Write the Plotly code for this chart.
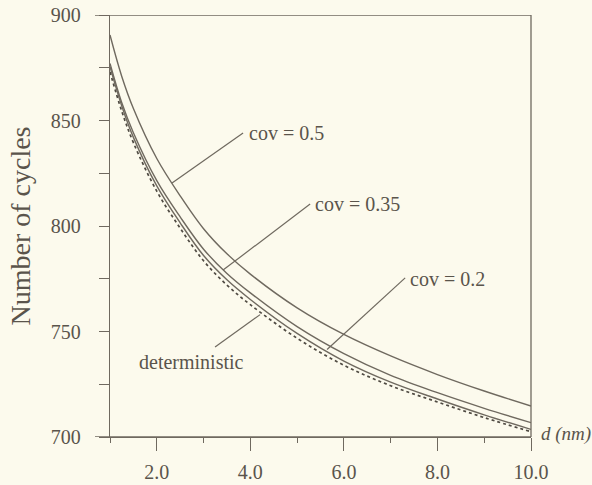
import plotly.graph_objects as go

# Data
d_nm = [1, 1.25, 1.5, 2, 2.5, 3, 3.5, 4, 5, 6, 7, 8, 9, 10]
cov_05 = [890.5, 871, 855.7, 832, 814.3, 798.7, 786.8, 777.2, 761.2, 748.6, 738.4, 729.6, 721.8, 714.7]
cov_035 = [877, 858.5, 844.2, 821.5, 804.3, 789, 777.5, 768.3, 752.3, 739.5, 729.2, 721, 713.6, 706.8]
cov_02 = [875.5, 857, 842, 819, 801.5, 786, 774.5, 765.2, 749.1, 736, 726, 718, 710.5, 703.6]
deterministic = [873, 854.5, 839.5, 816.5, 799, 783.5, 772, 762.7, 746.8, 734, 724.3, 716.6, 709.2, 702.5]

x_ticks = [2, 4, 6, 8, 10]
x_tick_labels = ["2.0", "4.0", "6.0", "8.0", "10.0"]
y_ticks = [700, 750, 800, 850, 900]

LINE = "#6f695f"
TEXT = "#5a544b"
BG = "#fcfaed"
FONT = "Liberation Serif, Times New Roman, Times, serif"

fig = go.Figure()
for ys in (cov_05, cov_035, cov_02):
    fig.add_trace(go.Scatter(x=d_nm, y=ys, mode="lines", line=dict(color=LINE, width=1.4, shape="spline"),
                             showlegend=False, hoverinfo="skip"))
fig.add_trace(go.Scatter(x=d_nm, y=deterministic, mode="lines",
                         line=dict(color="#4f4a42", width=1.7, dash="3px,3px", shape="spline"),
                         showlegend=False, hoverinfo="skip"))

# leader lines (label -> curve)
leaders = [
    ((3.845, 844.1), (2.326, 820.4)),
    ((5.278, 810.4), (3.417, 779.1)),
    ((7.31, 775.4), (5.64, 741.5)),
    ((3.246, 742.7), (4.209, 758.0)),
]
for (xa, ya), (xb, yb) in leaders:
    fig.add_shape(type="line", xref="x", yref="y", x0=xa, y0=ya, x1=xb, y1=yb,
                  line=dict(color=LINE, width=1.2))

labels = [
    ("cov = 0.5", 3.93, 844.1),
    ("cov = 0.35", 5.34, 810.2),
    ("cov = 0.2", 7.37, 775.1),
    ("deterministic", 1.578, 735.5),
]
for txt, xx, yy in labels:
    fig.add_annotation(text=txt, x=xx, y=yy, xref="x", yref="y", xanchor="left", yanchor="middle",
                       showarrow=False, font=dict(family=FONT, size=20, color=TEXT))

fig.add_annotation(text="<i>d (nm)</i>", x=1.019, y=700, xref="paper", yref="y", xanchor="left",
                   yanchor="middle", yshift=3, showarrow=False, font=dict(family=FONT, size=19, color=TEXT))

# frame: top and bottom lines extend a little left of the y axis, right border
ext = -15 / 421
for yv in (700, 900):
    fig.add_shape(type="line", xref="paper", yref="y", x0=ext, x1=1, y0=yv, y1=yv,
                  line=dict(color=LINE, width=1.3))
fig.add_shape(type="line", xref="paper", yref="paper", x0=1, x1=1, y0=0, y1=1,
              line=dict(color=LINE, width=1.3))

fig.update_layout(
    width=592, height=485,
    margin=dict(l=110, r=61, t=15, b=48, autoexpand=False),
    paper_bgcolor=BG, plot_bgcolor=BG,
    font=dict(family=FONT, color=TEXT),
)
fig.update_xaxes(
    range=[1, 10], showgrid=False, zeroline=False, automargin=False,
    showline=True, linecolor=LINE, linewidth=1.3,
    tickvals=x_ticks, ticktext=x_tick_labels,
    ticks="outside", ticklen=13, tickwidth=1.3, tickcolor=LINE,
    ticklabelstandoff=4,
    tickfont=dict(family=FONT, size=20, color=TEXT),
    minor=dict(tickvals=[1, 3, 5, 7, 9], ticks="outside", ticklen=5, tickwidth=1.3, tickcolor=LINE, showgrid=False),
)
fig.update_yaxes(
    range=[700, 900], showgrid=False, zeroline=False, automargin=False,
    showline=True, linecolor=LINE, linewidth=1.3,
    tickvals=y_ticks,
    ticks="outside", ticklen=10, tickwidth=1.3, tickcolor=LINE,
    ticklabelstandoff=14,
    tickfont=dict(family=FONT, size=20, color=TEXT),
    minor=dict(tickvals=[725, 775, 825, 875], ticks="outside", ticklen=10, tickwidth=1.3, tickcolor=LINE, showgrid=False),
    title=dict(text="Number of cycles", font=dict(family=FONT, size=28, color=TEXT), standoff=12),
)

fig.write_html("out.html")
